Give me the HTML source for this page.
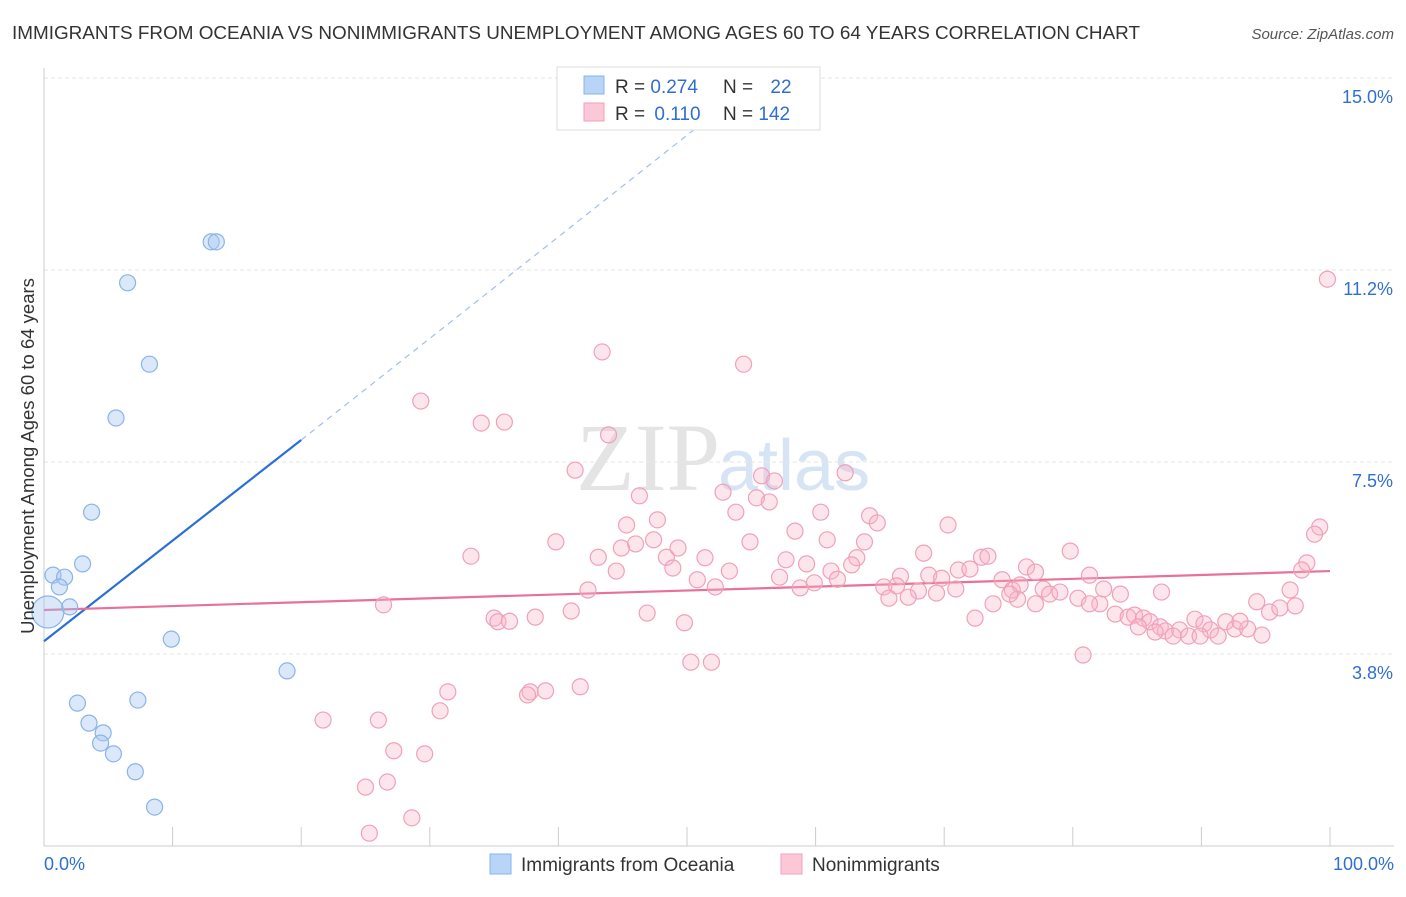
<!DOCTYPE html>
<html><head><meta charset="utf-8"><style>
body{margin:0;background:#fff;font-family:"Liberation Sans",sans-serif;}
</style></head><body>
<svg width="1406" height="892" xmlns="http://www.w3.org/2000/svg" id="svg">
<text x="12" y="39" font-size="18.5" fill="#333" textLength="1128" lengthAdjust="spacingAndGlyphs">IMMIGRANTS FROM OCEANIA VS NONIMMIGRANTS UNEMPLOYMENT AMONG AGES 60 TO 64 YEARS CORRELATION CHART</text>
<text x="1394" y="39" font-size="15" fill="#555" font-style="italic" text-anchor="end">Source: ZipAtlas.com</text>
<text x="720" y="490" font-size="96" fill="#e4e4e4" text-anchor="end" font-family="Liberation Serif">ZIP</text>
<text x="718" y="490" font-size="72" fill="#d6e4f4">atlas</text>
<g id="grid"></g>
<g id="axes"></g>
<g id="lines"></g>
<g id="pts"></g>
<text x="34" y="456" font-size="18.5" fill="#333" text-anchor="middle" transform="rotate(-90 34 456)">Unemployment Among Ages 60 to 64 years</text>
<g>
<rect x="557" y="67" width="263" height="63" fill="#fff" stroke="#ddd"/>
<rect x="584" y="76" width="20" height="18" fill="#b8d4f6" stroke="#8ab4e8"/>
<rect x="584" y="103" width="20" height="18" fill="#fcc8d8" stroke="#f0a0bb"/>
<text x="615" y="93" font-size="19" fill="#333">R = <tspan fill="#2f6fd0">0.274</tspan></text>
<text x="723" y="93" font-size="19" fill="#333">N = <tspan fill="#2f6fd0" dx="12">22</tspan></text>
<text x="615" y="120" font-size="19" fill="#333">R = <tspan fill="#2f6fd0" dx="4">0.110</tspan></text>
<text x="723" y="120" font-size="19" fill="#333">N = <tspan fill="#2f6fd0">142</tspan></text>
</g>
<g>
<rect x="490" y="854" width="21" height="20" fill="#b8d4f6" stroke="#8ab4e8"/>
<text x="521" y="871" font-size="19" fill="#333">Immigrants from Oceania</text>
<rect x="781" y="854" width="21" height="20" fill="#fcc8d8" stroke="#f0a0bb"/>
<text x="812" y="871" font-size="19" fill="#333">Nonimmigrants</text>
</g>
</svg>
<script>
const yTicks=[3.75,7.5,11.25,15];
const yTickLabels=["3.8%","7.5%","11.2%","15.0%"];
const xTicks=[0,10,20,30,40,50,60,70,80,90,100];
const blueX=[0.3,0.7,1.6,1.2,2.0,3.0,3.7,5.6,6.5,8.2,13.0,13.4,9.9,18.9,2.6,3.5,4.6,4.4,5.4,7.3,7.1,8.6];
const blueY=[4.57,5.29,5.25,5.06,4.67,5.51,6.52,8.36,11.0,9.41,11.8,11.8,4.04,3.42,2.79,2.40,2.21,2.01,1.80,2.85,1.45,0.76];
const pinkX=[99.8,43.4,54.4,29.3,34.0,35.8,43.9,41.3,55.8,56.8,62.3,52.8,55.4,56.4,46.3,53.8,47.7,45.3,60.4,64.2,64.8,70.3,58.4,39.8,46.0,47.4,54.9,60.9,63.8,33.2,43.1,44.9,48.4,49.3,51.4,57.7,63.2,68.4,72.9,73.4,79.8,99.2,98.8,98.2,97.8,44.5,48.9,53.3,59.3,57.2,61.2,62.8,61.7,66.6,68.8,69.8,71.1,72.0,76.4,74.5,77.1,81.3,50.8,52.2,58.8,59.9,65.3,66.3,68.0,69.4,70.9,75.3,75.9,77.7,78.2,79.0,80.4,82.4,83.7,86.9,96.9,42.3,65.7,67.2,75.7,77.1,73.8,82.1,75.1,94.3,26.4,41.0,46.9,35.0,35.3,36.2,38.2,49.8,72.4,83.3,84.3,84.8,85.5,86.0,86.8,87.2,88.3,89.0,89.5,90.2,90.7,91.3,91.9,92.6,93.6,94.7,95.3,96.1,97.3,80.8,50.3,51.9,31.4,37.8,39.0,41.7,37.6,30.8,21.7,26.0,27.2,29.6,26.7,25.0,28.6,25.3,87.8,93.0,89.9,86.4,85.1,81.3];
const pinkY=[11.07,9.65,9.41,8.69,8.26,8.28,8.03,7.34,7.23,7.13,7.29,6.91,6.80,6.72,6.84,6.52,6.37,6.27,6.52,6.45,6.31,6.27,6.15,5.94,5.90,5.98,5.94,5.98,5.94,5.66,5.64,5.82,5.64,5.82,5.63,5.59,5.63,5.72,5.64,5.66,5.76,6.23,6.09,5.53,5.39,5.37,5.43,5.37,5.51,5.25,5.37,5.49,5.21,5.27,5.29,5.23,5.39,5.41,5.45,5.20,5.35,5.29,5.20,5.06,5.04,5.14,5.06,5.08,4.98,4.94,5.02,5.00,5.10,5.02,4.92,4.96,4.84,5.02,4.92,4.96,5.00,5.00,4.84,4.86,4.82,4.73,4.73,4.73,4.92,4.77,4.71,4.59,4.55,4.45,4.38,4.39,4.47,4.36,4.45,4.53,4.47,4.51,4.45,4.38,4.28,4.20,4.22,4.10,4.43,4.34,4.22,4.10,4.38,4.24,4.24,4.12,4.57,4.65,4.69,3.73,3.59,3.59,3.01,3.01,3.03,3.11,2.95,2.64,2.46,2.46,1.86,1.80,1.25,1.15,0.55,0.25,4.10,4.39,4.10,4.18,4.28,4.73];
const blueLine=[0,4.0,20,7.93,51,14.08];
const pinkLine=[0,4.61,100,5.37];
const X0=44,X1=1330,Y0=846,Y1=78;
const sx=v=>X0+(X1-X0)*v/100, sy=v=>Y0-(Y0-Y1)*v/15;
const NS="http://www.w3.org/2000/svg";
function mk(p,t,a){const e=document.createElementNS(NS,t);for(const k in a)e.setAttribute(k,a[k]);document.getElementById(p).appendChild(e);return e;}
yTicks.forEach((t,i)=>{
 const l=mk('grid','line',{x1:X0,x2:1394,y1:sy(t),y2:sy(t),stroke:'#e6e6e6','stroke-dasharray':'4 3'});
 
 
 const tx=mk('grid','text',{x:1393,y:sy(t)+25,'font-size':18,fill:'#2f6fd0','text-anchor':'end'});
 tx.textContent=yTickLabels[i];
 
 
});
const ax=mk('axes','line',{x1:X0,x2:1394,y1:Y0,y2:Y0,stroke:'#ccc'});


const ay=mk('axes','line',{x1:X0,x2:X0,y1:68,y2:Y0,stroke:'#ccc'});


xTicks.forEach(t=>{
 const l=mk('axes','line',{x1:sx(t),x2:sx(t),y1:827,y2:Y0,stroke:'#ccc'});
 
 
});
[[0,'0.0%','start',44],[100,'100.0%','end',1394]].forEach(d=>{
 const tx=mk('axes','text',{x:d[3],y:870,'font-size':18,fill:'#2f6fd0','text-anchor':d[2]});
 tx.textContent=d[1];
 
 
});
pinkX.forEach((x,i)=>{
 const c=mk('pts','circle',{cx:sx(x),cy:sy(pinkY[i]),r:8,fill:'rgba(248,180,200,0.35)',stroke:'#f0a0bb','stroke-width':1.2});
 
 
});
blueX.forEach((x,i)=>{
 const c=mk('pts','circle',{cx:sx(x),cy:sy(blueY[i]),r:i==0?16:8,fill:'rgba(165,198,240,0.4)',stroke:'#8ab4e8','stroke-width':1.2});
 
 
});
const bl=mk('lines','line',{x1:sx(blueLine[0]),y1:sy(blueLine[1]),x2:sx(blueLine[2]),y2:sy(blueLine[3]),stroke:'#2a6fd6','stroke-width':2.2});


const bd=mk('lines','line',{x1:sx(blueLine[2]),y1:sy(blueLine[3]),x2:sx(blueLine[4]),y2:sy(blueLine[5]),stroke:'#9fc0ea','stroke-width':1.2,'stroke-dasharray':'6 5'});


const pl=mk('lines','line',{x1:sx(pinkLine[0]),y1:sy(pinkLine[1]),x2:sx(pinkLine[2]),y2:sy(pinkLine[3]),stroke:'#e8719a','stroke-width':2.2});


</script>
</body></html>
